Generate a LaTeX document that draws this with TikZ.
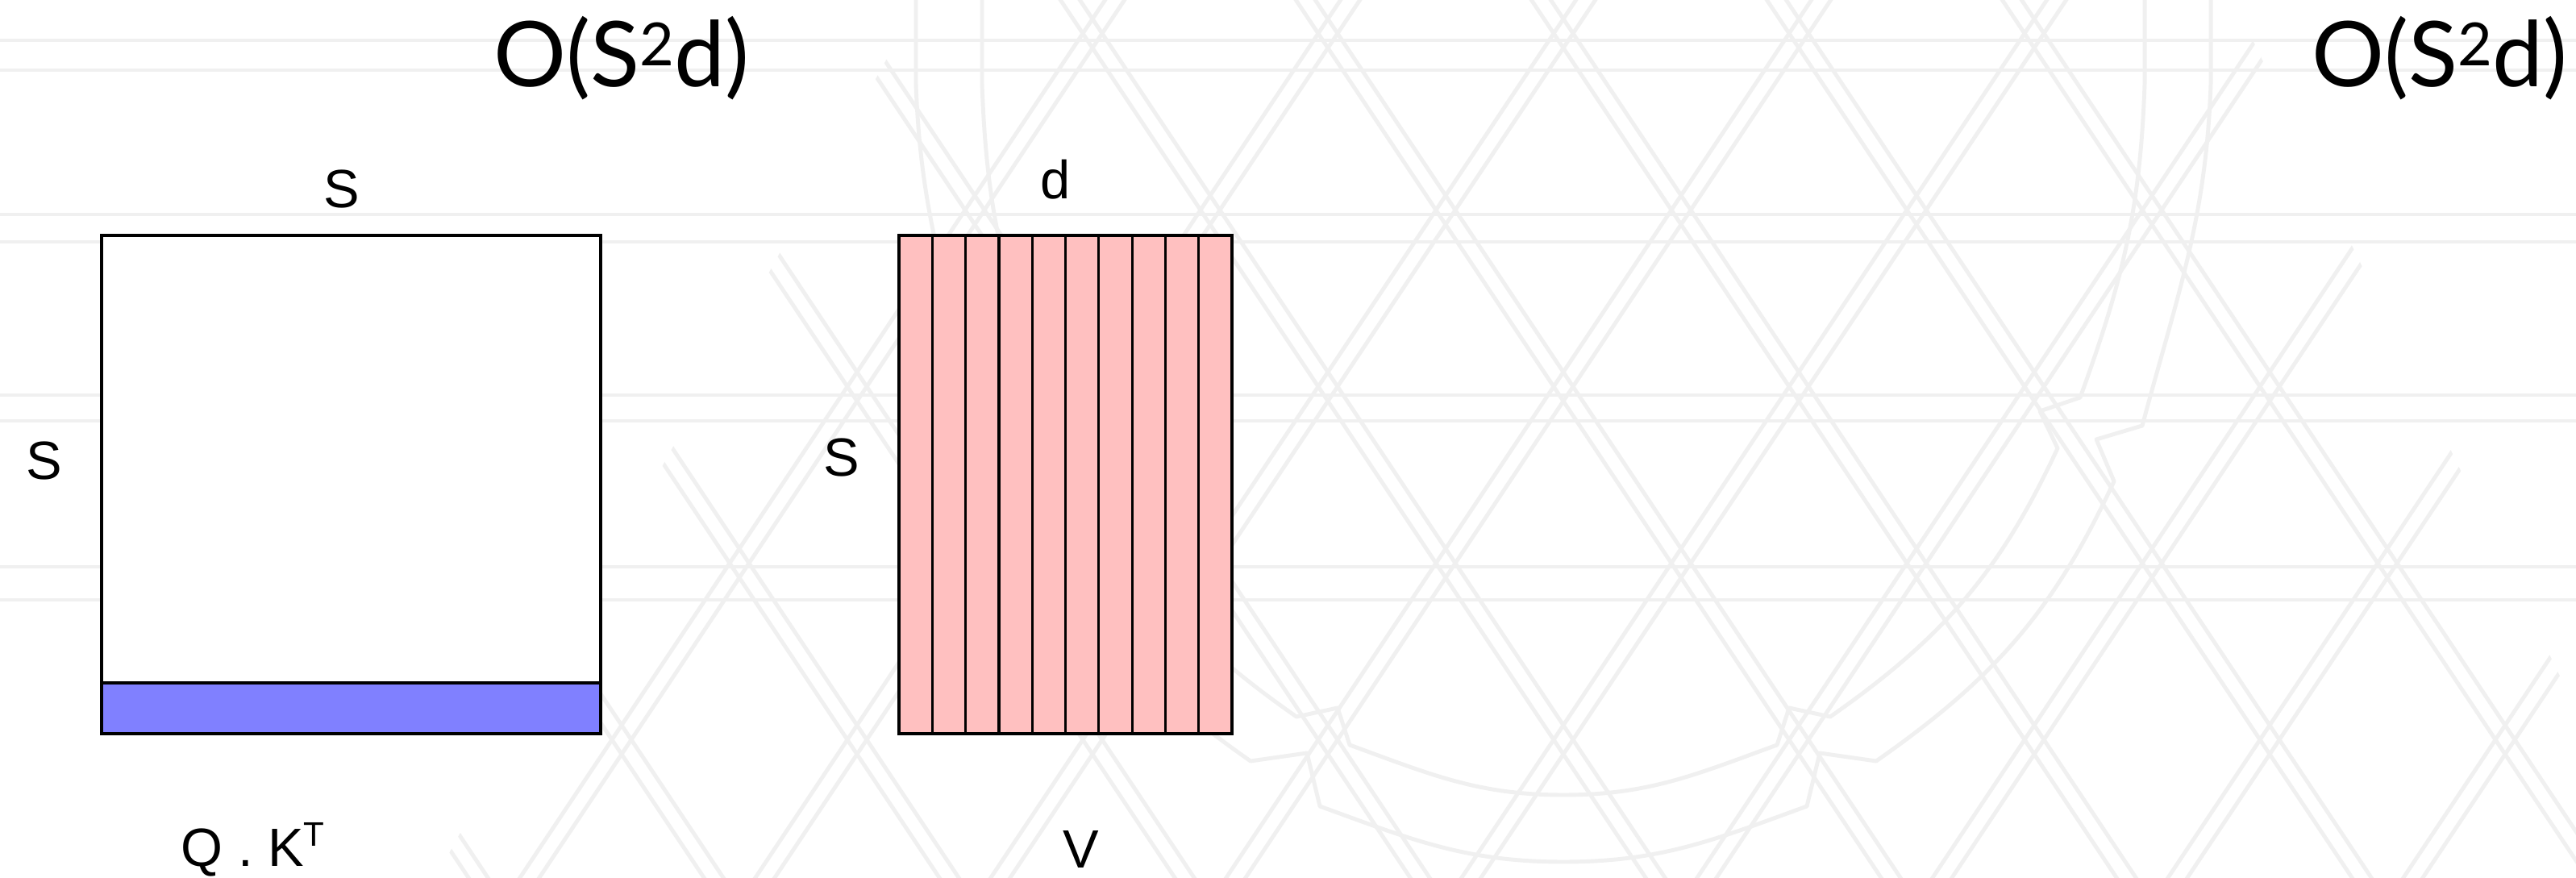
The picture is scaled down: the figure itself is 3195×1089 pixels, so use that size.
\documentclass[tikz,border=0pt]{standalone}
\usepackage{fontspec}
\setmainfont{Liberation Sans}
\newfontfamily\titlefont{Lato}
\definecolor{pinkc}{RGB}{255,192,192}
\definecolor{bluec}{RGB}{128,128,255}
\definecolor{wmc}{RGB}{240,240,240}
\begin{document}
\begin{tikzpicture}[x=0.01cm,y=-0.01cm,
  wm/.style={draw=wmc,line width=1.4pt,line join=round},
  matbox/.style={draw=black,line width=0.9pt},
  lbl/.style={anchor=base,inner sep=0pt,font=\fontsize{19pt}{19pt}\selectfont},
  ttl/.style={anchor=base,inner sep=0pt,font=\titlefont\fontsize{32pt}{32pt}\selectfont}]
\useasboundingbox[fill=white] (0,0) rectangle (3195,1089);
% watermark: horizontal bands
\foreach \yy in {50,87,266,300,490,522,703,744}
  \draw[wm] (0,\yy) -- (3195,\yy);
% watermark: lattice
\begin{scope}
\clip (1140,0) -- (2770,0) -- (3195,880) -- (3195,1089) -- (540,1089) -- cycle;
\foreach \n in {-7,...,6}{
  \pgfmathsetmacro\xa{1939+292*\n}
  \draw[wm] (\xa-61-12,-50) -- (\xa+739-12,1150);
  \draw[wm] (\xa-61+12,-50) -- (\xa+739+12,1150);
  \draw[wm] (\xa+61-12,-50) -- (\xa-739-12,1150);
  \draw[wm] (\xa+61+12,-50) -- (\xa-739+12,1150);
}
\end{scope}
% watermark: shield outlines
\draw[wm] (2742,0) -- (2742,104) to[out=-92,in=75] (2657,528) -- (2600,545) -- (2622,597)
  to[out=-115,in=35] (2327,944) -- (2257,934) -- (2241,1000)
  to[out=-160,in=0] (1939,1069) to[out=180,in=-20] (1637,1000) -- (1621,934) -- (1551,944)
  to[out=145,in=-65] (1256,597) -- (1278,545) -- (1221,528) to[out=105,in=-88] (1136,104) -- (1136,0);
\draw[wm] (2660,0) -- (2660,104) to[out=-92,in=70] (2580,493) -- (2530,510) -- (2552,556)
  to[out=-115,in=35] (2270,889) -- (2219,878) -- (2204,924)
  to[out=-160,in=0] (1939,986) to[out=180,in=-20] (1674,924) -- (1659,878) -- (1608,889)
  to[out=145,in=-65] (1326,556) -- (1348,510) -- (1298,493) to[out=110,in=-88] (1218,104) -- (1218,0);
% titles
\node[ttl] (t1) at (771,108) {O(S\raisebox{7.5pt}{\fontsize{21pt}{21pt}\selectfont 2}d)};
\node[ttl] (t2) at (3026,108) {O(S\raisebox{7.5pt}{\fontsize{21pt}{21pt}\selectfont 2}d)};
% Q.K^T matrix
\coordinate (qa) at (126,292);
\coordinate (qb) at (745,910);
\draw[matbox,fill=white] (qa) rectangle (qb);
\draw[matbox,fill=bluec] (126,847) rectangle (qb);
\node[lbl] (qs1) at (424,258) {S};
\node[lbl] (qs2) at (55,595) {S};
\node[lbl,anchor=base west] (qk) at (224,1074) {Q . K\raisebox{7pt}{\fontsize{12pt}{12pt}\selectfont T}};
% V matrix
\coordinate (va) at (1115,292);
\foreach \i in {0,...,9}
  \draw[matbox,fill=pinkc] (1115+41.3*\i,292) rectangle ++(41.3,618);
\node[lbl] (vd) at (1309,247) {d};
\node[lbl] (vs) at (1044,591) {S};
\node[lbl] (vv) at (1341,1076) {V};
\end{tikzpicture}
\end{document}
